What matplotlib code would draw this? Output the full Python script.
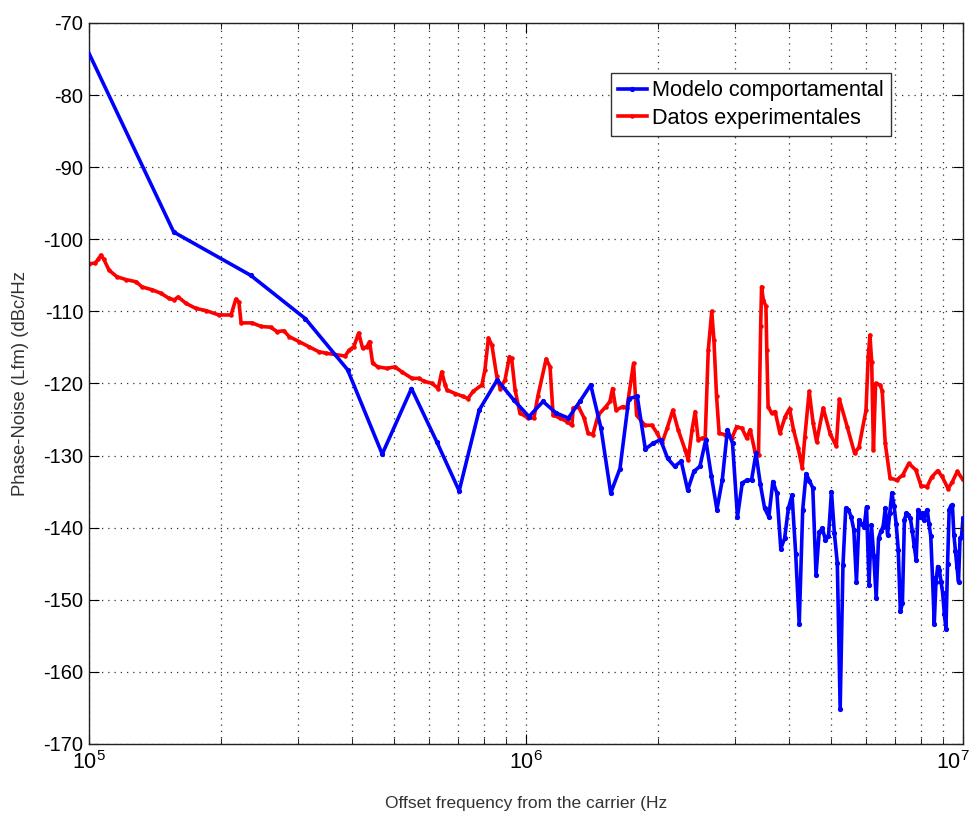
import numpy as np
import matplotlib
matplotlib.use("Agg")
import matplotlib.pyplot as plt
from matplotlib.ticker import LogLocator
from matplotlib.transforms import ScaledTranslation

# ---------------- data ----------------
# Behavioural model: evaluated on a linear frequency grid (k * 78.125 kHz)
model_k = np.arange(1, 129)
model_step_hz = 78125.0
model_db = [
    -60.5, -99.0, -105.0, -111.0, -118.1, -129.8, -120.7, -128.1, -134.9, -123.7,
    -119.5, -122.3, -124.6, -122.5, -124.1, -124.8, -122.5, -120.2, -126.2, -135.2,
    -131.8, -122.1, -121.8, -129.1, -128.3, -127.8, -130.4, -131.5, -130.8, -134.8,
    -132.2, -131.5, -127.8, -132.9, -137.5, -133.4, -126.4, -128.3, -138.5, -133.8,
    -133.4, -133.4, -129.7, -134.0, -137.3, -138.5, -133.6, -135.2, -142.9, -141.5,
    -137.3, -135.5, -143.6, -153.4, -137.5, -132.5, -133.5, -134.5, -146.5, -140.6,
    -140.1, -141.7, -141.2, -135.0, -140.8, -144.9, -165.1, -145.2, -137.3, -137.5,
    -138.5, -140.3, -147.5, -138.9, -139.5, -139.9, -137.1, -147.9, -139.6, -144.0,
    -149.8, -141.5, -140.5, -139.9, -137.3, -141.0, -138.0, -135.2, -137.0, -139.5,
    -143.1, -151.6, -150.5, -138.9, -138.0, -138.2, -138.7, -140.5, -142.6, -144.5,
    -137.5, -138.5, -138.0, -139.0, -138.0, -137.5, -139.5, -141.2, -147.0, -153.3,
    -147.5, -145.4, -145.9, -147.5, -149.1, -152.0, -154.0, -145.0, -137.5, -137.0,
    -136.8, -141.0, -143.3, -145.5, -147.5, -141.5, -141.2, -138.7,
]

# Experimental data: log10(frequency in Hz) and phase noise (dBc/Hz)
meas_log10f = [
    5.000, 5.014, 5.021, 5.027, 5.034, 5.046, 5.064, 5.085, 5.108, 5.121,
    5.144, 5.165, 5.183, 5.195, 5.204, 5.222, 5.245, 5.268, 5.297, 5.325,
    5.336, 5.343, 5.348, 5.373, 5.394, 5.416, 5.430, 5.446, 5.458, 5.481,
    5.503, 5.526, 5.542, 5.565, 5.586, 5.595, 5.606, 5.617, 5.626, 5.636,
    5.642, 5.649, 5.661, 5.682, 5.700, 5.716, 5.739, 5.755, 5.767, 5.785,
    5.799, 5.807, 5.815, 5.819, 5.838, 5.856, 5.867, 5.879, 5.899, 5.906,
    5.914, 5.922, 5.933, 5.941, 5.952, 5.962, 5.967, 5.975, 5.986, 6.005,
    6.018, 6.027, 6.046, 6.055, 6.062, 6.078, 6.094, 6.105, 6.108, 6.120,
    6.133, 6.142, 6.153, 6.165, 6.183, 6.192, 6.198, 6.206, 6.222, 6.231,
    6.246, 6.253, 6.272, 6.288, 6.300, 6.311, 6.323, 6.336, 6.348, 6.364,
    6.371, 6.380, 6.387, 6.394, 6.403, 6.410, 6.417, 6.425, 6.430, 6.436,
    6.442, 6.455, 6.471, 6.482, 6.494, 6.505, 6.513, 6.524, 6.532, 6.537,
    6.539, 6.543, 6.549, 6.551, 6.554, 6.562, 6.570, 6.581, 6.593, 6.603,
    6.612, 6.623, 6.632, 6.638, 6.648, 6.657, 6.665, 6.680, 6.696, 6.710,
    6.717, 6.735, 6.752, 6.762, 6.778, 6.783, 6.787, 6.791, 6.795, 6.800,
    6.810, 6.815, 6.822, 6.833, 6.848, 6.862, 6.876, 6.892, 6.904, 6.918,
    6.928, 6.942, 6.952, 6.966, 6.975, 6.987, 6.999,
]
meas_db = [
    -103.4, -103.3, -102.8, -102.2, -102.8, -104.3, -105.2, -105.6, -105.9, -106.6,
    -107.0, -107.5, -108.2, -108.4, -108.0, -108.9, -109.6, -109.9, -110.5, -110.5,
    -108.3, -108.7, -111.6, -111.6, -112.1, -112.2, -112.8, -112.7, -113.5, -114.2,
    -114.9, -115.6, -115.8, -116.0, -116.2, -115.4, -114.9, -113.0, -115.1, -114.9,
    -114.2, -117.2, -117.7, -117.9, -117.7, -118.4, -119.3, -119.3, -119.7, -120.0,
    -120.7, -118.4, -120.2, -120.9, -121.4, -121.8, -122.1, -121.1, -120.2, -118.1,
    -113.7, -114.7, -119.0, -120.7, -119.5, -116.3, -116.5, -120.9, -124.1, -124.8,
    -124.8, -121.8, -116.6, -117.7, -124.4, -124.8, -125.3, -125.8, -123.4, -123.2,
    -124.8, -126.9, -127.1, -124.4, -123.2, -122.5, -120.7, -123.7, -123.2, -123.4,
    -117.2, -124.4, -125.8, -125.8, -126.9, -128.3, -126.2, -123.7, -126.4, -129.2,
    -130.6, -126.4, -123.9, -127.8, -127.6, -127.6, -115.4, -110.0, -114.0, -121.8,
    -126.9, -127.1, -127.6, -126.0, -126.2, -127.6, -126.4, -129.5, -129.9, -112.0,
    -106.6, -108.4, -109.3, -115.4, -123.2, -124.1, -123.9, -126.9, -124.6, -123.5,
    -126.4, -129.0, -131.7, -127.4, -121.1, -125.5, -128.1, -123.4, -127.0, -128.7,
    -122.2, -126.0, -129.7, -128.8, -123.7, -116.3, -113.3, -117.0, -129.2, -120.0,
    -120.2, -121.0, -128.3, -133.1, -133.4, -132.7, -131.1, -132.0, -134.2, -134.3,
    -133.0, -132.1, -132.9, -134.6, -133.7, -132.2, -133.3,
]

series_labels = ["Modelo comportamental", "Datos experimentales"]
x_label = "Offset frequency from the carrier (Hz"
y_label = "Phase-Noise (Lfm) (dBc/Hz"
y_ticks = [-70, -80, -90, -100, -110, -120, -130, -140, -150, -160, -170]

# ---------------- plot ----------------
plt.rcParams['font.family'] = ['Liberation Sans', 'DejaVu Sans']
plt.rcParams['axes.unicode_minus'] = False

fig = plt.figure(figsize=(9.76, 8.17), dpi=100)
ax = fig.add_axes([0.0912, 0.0894, 0.8955, 0.8825])

f_model = model_k * model_step_hz
f_meas = 10.0 ** np.array(meas_log10f)

ax.plot(f_model, model_db, '.-', color='#0000ff', lw=2.6, ms=5.5,
        label=series_labels[0], zorder=3)
ax.plot(f_meas, meas_db, '.-', color='#ff0000', lw=2.6, ms=4.5,
        label=series_labels[1], zorder=2)

ax.set_xscale('log')
ax.set_xlim(1e5, 1e7)
ax.set_ylim(-170, -70)
ax.set_yticks(y_ticks)
ax.xaxis.set_major_locator(LogLocator(base=10, numticks=10))
ax.xaxis.set_minor_locator(LogLocator(base=10, subs=np.arange(2, 10), numticks=20))

grid_style = dict(color='#333333', linestyle=(0, (1, 4)), linewidth=0.9)
ax.grid(True, which='major', **grid_style)
ax.grid(True, which='minor', axis='x', **grid_style)
ax.set_axisbelow(True)

ax.tick_params(axis='both', which='both', direction='in', top=True, right=True)
ax.tick_params(axis='y', which='major', length=7, labelsize=14.5, pad=4)
ax.tick_params(axis='x', which='major', length=7, labelsize=15.5, pad=5)
ax.tick_params(axis='x', which='minor', length=4)
for sp in ax.spines.values():
    sp.set_linewidth(1.0)
    sp.set_color('#222222')

ax.set_xlabel(x_label, fontsize=12.5, color='#333333', labelpad=16)
ax.set_ylabel(y_label, fontsize=13.3, color='#333333', labelpad=10)

leg = ax.legend(loc='upper left', bbox_to_anchor=(0.597, 0.931), borderaxespad=0,
                fontsize=15.6, handlelength=1.3, handletextpad=0.25, borderpad=0.35,
                labelspacing=0.3, fancybox=False, framealpha=1, edgecolor='#333333')
leg.get_frame().set_linewidth(1.0)

# keep the last decade label inside the canvas, as in the reference
fig.canvas.draw()
last_tick = [t for t in ax.xaxis.get_major_ticks() if np.isclose(t.get_loc(), 1e7)]
for t in last_tick:
    t.label1.set_transform(t.label1.get_transform()
                           + ScaledTranslation(-7 / 72, 0, fig.dpi_scale_trans))

fig.savefig('out.png', dpi=100)
